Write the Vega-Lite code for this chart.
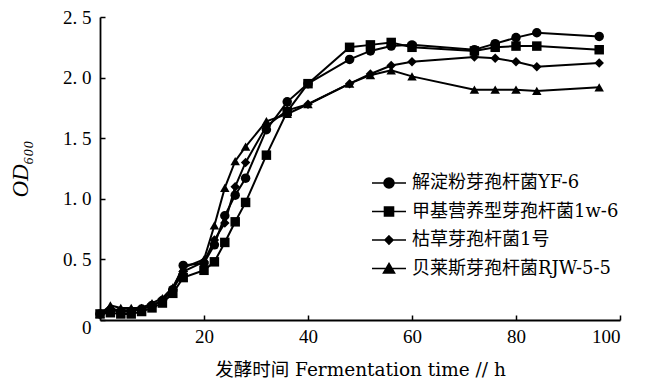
{
  "$schema": "https://vega.github.io/schema/vega-lite/v6.json",
  "width": 520,
  "height": 303,
  "autosize": "none",
  "padding": {"left": 100, "top": 17, "right": 30, "bottom": 68},
  "background": "white",
  "config": {
    "view": {"stroke": null},
    "axis": {"grid": false, "domainColor": "black", "domainWidth": 1.8, "tickColor": "black", "tickWidth": 1.5, "labelColor": "black", "titleColor": "black", "labelFont": "Liberation Serif", "titleFont": "DejaVu Serif, Noto Sans CJK SC", "titleFontWeight": "normal"}
  },
  "datasets": {
    "od": [
      {"t":0,"v":0.05,"s":"解淀粉芽孢杆菌YF-6"},{"t":2,"v":0.08,"s":"解淀粉芽孢杆菌YF-6"},{"t":4,"v":0.07,"s":"解淀粉芽孢杆菌YF-6"},{"t":6,"v":0.07,"s":"解淀粉芽孢杆菌YF-6"},{"t":8,"v":0.09,"s":"解淀粉芽孢杆菌YF-6"},{"t":10,"v":0.12,"s":"解淀粉芽孢杆菌YF-6"},{"t":12,"v":0.16,"s":"解淀粉芽孢杆菌YF-6"},{"t":14,"v":0.25,"s":"解淀粉芽孢杆菌YF-6"},{"t":16,"v":0.45,"s":"解淀粉芽孢杆菌YF-6"},{"t":20,"v":0.47,"s":"解淀粉芽孢杆菌YF-6"},{"t":22,"v":0.62,"s":"解淀粉芽孢杆菌YF-6"},{"t":24,"v":0.86,"s":"解淀粉芽孢杆菌YF-6"},{"t":26,"v":1.03,"s":"解淀粉芽孢杆菌YF-6"},{"t":28,"v":1.17,"s":"解淀粉芽孢杆菌YF-6"},{"t":32,"v":1.57,"s":"解淀粉芽孢杆菌YF-6"},{"t":36,"v":1.80,"s":"解淀粉芽孢杆菌YF-6"},{"t":40,"v":1.95,"s":"解淀粉芽孢杆菌YF-6"},{"t":48,"v":2.15,"s":"解淀粉芽孢杆菌YF-6"},{"t":52,"v":2.22,"s":"解淀粉芽孢杆菌YF-6"},{"t":56,"v":2.26,"s":"解淀粉芽孢杆菌YF-6"},{"t":60,"v":2.27,"s":"解淀粉芽孢杆菌YF-6"},{"t":72,"v":2.23,"s":"解淀粉芽孢杆菌YF-6"},{"t":76,"v":2.28,"s":"解淀粉芽孢杆菌YF-6"},{"t":80,"v":2.33,"s":"解淀粉芽孢杆菌YF-6"},{"t":84,"v":2.37,"s":"解淀粉芽孢杆菌YF-6"},{"t":96,"v":2.34,"s":"解淀粉芽孢杆菌YF-6"},
      {"t":0,"v":0.05,"s":"甲基营养型芽孢杆菌1w-6"},{"t":2,"v":0.06,"s":"甲基营养型芽孢杆菌1w-6"},{"t":4,"v":0.05,"s":"甲基营养型芽孢杆菌1w-6"},{"t":6,"v":0.05,"s":"甲基营养型芽孢杆菌1w-6"},{"t":8,"v":0.07,"s":"甲基营养型芽孢杆菌1w-6"},{"t":10,"v":0.10,"s":"甲基营养型芽孢杆菌1w-6"},{"t":12,"v":0.14,"s":"甲基营养型芽孢杆菌1w-6"},{"t":14,"v":0.22,"s":"甲基营养型芽孢杆菌1w-6"},{"t":16,"v":0.35,"s":"甲基营养型芽孢杆菌1w-6"},{"t":20,"v":0.41,"s":"甲基营养型芽孢杆菌1w-6"},{"t":22,"v":0.48,"s":"甲基营养型芽孢杆菌1w-6"},{"t":24,"v":0.64,"s":"甲基营养型芽孢杆菌1w-6"},{"t":26,"v":0.81,"s":"甲基营养型芽孢杆菌1w-6"},{"t":28,"v":0.97,"s":"甲基营养型芽孢杆菌1w-6"},{"t":32,"v":1.36,"s":"甲基营养型芽孢杆菌1w-6"},{"t":36,"v":1.72,"s":"甲基营养型芽孢杆菌1w-6"},{"t":40,"v":1.95,"s":"甲基营养型芽孢杆菌1w-6"},{"t":48,"v":2.25,"s":"甲基营养型芽孢杆菌1w-6"},{"t":52,"v":2.27,"s":"甲基营养型芽孢杆菌1w-6"},{"t":56,"v":2.29,"s":"甲基营养型芽孢杆菌1w-6"},{"t":60,"v":2.25,"s":"甲基营养型芽孢杆菌1w-6"},{"t":72,"v":2.22,"s":"甲基营养型芽孢杆菌1w-6"},{"t":76,"v":2.25,"s":"甲基营养型芽孢杆菌1w-6"},{"t":80,"v":2.26,"s":"甲基营养型芽孢杆菌1w-6"},{"t":84,"v":2.26,"s":"甲基营养型芽孢杆菌1w-6"},{"t":96,"v":2.23,"s":"甲基营养型芽孢杆菌1w-6"},
      {"t":0,"v":0.05,"s":"枯草芽孢杆菌1号"},{"t":2,"v":0.09,"s":"枯草芽孢杆菌1号"},{"t":4,"v":0.08,"s":"枯草芽孢杆菌1号"},{"t":6,"v":0.08,"s":"枯草芽孢杆菌1号"},{"t":8,"v":0.09,"s":"枯草芽孢杆菌1号"},{"t":10,"v":0.12,"s":"枯草芽孢杆菌1号"},{"t":12,"v":0.16,"s":"枯草芽孢杆菌1号"},{"t":14,"v":0.25,"s":"枯草芽孢杆菌1号"},{"t":16,"v":0.40,"s":"枯草芽孢杆菌1号"},{"t":20,"v":0.48,"s":"枯草芽孢杆菌1号"},{"t":22,"v":0.66,"s":"枯草芽孢杆菌1号"},{"t":24,"v":0.80,"s":"枯草芽孢杆菌1号"},{"t":26,"v":1.10,"s":"枯草芽孢杆菌1号"},{"t":28,"v":1.30,"s":"枯草芽孢杆菌1号"},{"t":32,"v":1.60,"s":"枯草芽孢杆菌1号"},{"t":36,"v":1.73,"s":"枯草芽孢杆菌1号"},{"t":40,"v":1.78,"s":"枯草芽孢杆菌1号"},{"t":48,"v":1.95,"s":"枯草芽孢杆菌1号"},{"t":52,"v":2.03,"s":"枯草芽孢杆菌1号"},{"t":56,"v":2.10,"s":"枯草芽孢杆菌1号"},{"t":60,"v":2.13,"s":"枯草芽孢杆菌1号"},{"t":72,"v":2.17,"s":"枯草芽孢杆菌1号"},{"t":76,"v":2.16,"s":"枯草芽孢杆菌1号"},{"t":80,"v":2.13,"s":"枯草芽孢杆菌1号"},{"t":84,"v":2.09,"s":"枯草芽孢杆菌1号"},{"t":96,"v":2.12,"s":"枯草芽孢杆菌1号"},
      {"t":0,"v":0.05,"s":"贝莱斯芽孢杆菌RJW-5-5"},{"t":2,"v":0.12,"s":"贝莱斯芽孢杆菌RJW-5-5"},{"t":4,"v":0.10,"s":"贝莱斯芽孢杆菌RJW-5-5"},{"t":6,"v":0.10,"s":"贝莱斯芽孢杆菌RJW-5-5"},{"t":8,"v":0.10,"s":"贝莱斯芽孢杆菌RJW-5-5"},{"t":10,"v":0.14,"s":"贝莱斯芽孢杆菌RJW-5-5"},{"t":12,"v":0.18,"s":"贝莱斯芽孢杆菌RJW-5-5"},{"t":14,"v":0.27,"s":"贝莱斯芽孢杆菌RJW-5-5"},{"t":16,"v":0.43,"s":"贝莱斯芽孢杆菌RJW-5-5"},{"t":20,"v":0.50,"s":"贝莱斯芽孢杆菌RJW-5-5"},{"t":22,"v":0.78,"s":"贝莱斯芽孢杆菌RJW-5-5"},{"t":24,"v":1.09,"s":"贝莱斯芽孢杆菌RJW-5-5"},{"t":26,"v":1.31,"s":"贝莱斯芽孢杆菌RJW-5-5"},{"t":28,"v":1.43,"s":"贝莱斯芽孢杆菌RJW-5-5"},{"t":32,"v":1.64,"s":"贝莱斯芽孢杆菌RJW-5-5"},{"t":36,"v":1.70,"s":"贝莱斯芽孢杆菌RJW-5-5"},{"t":40,"v":1.78,"s":"贝莱斯芽孢杆菌RJW-5-5"},{"t":48,"v":1.95,"s":"贝莱斯芽孢杆菌RJW-5-5"},{"t":52,"v":2.02,"s":"贝莱斯芽孢杆菌RJW-5-5"},{"t":56,"v":2.06,"s":"贝莱斯芽孢杆菌RJW-5-5"},{"t":60,"v":2.01,"s":"贝莱斯芽孢杆菌RJW-5-5"},{"t":72,"v":1.90,"s":"贝莱斯芽孢杆菌RJW-5-5"},{"t":76,"v":1.90,"s":"贝莱斯芽孢杆菌RJW-5-5"},{"t":80,"v":1.90,"s":"贝莱斯芽孢杆菌RJW-5-5"},{"t":84,"v":1.89,"s":"贝莱斯芽孢杆菌RJW-5-5"},{"t":96,"v":1.92,"s":"贝莱斯芽孢杆菌RJW-5-5"}
    ]
  },
  "data": {"name": "od"},
  "encoding": {
    "x": {"field": "t", "type": "quantitative", "scale": {"domain": [0, 100], "nice": false},
      "axis": {"values": [20, 40, 60, 80, 100], "title": "发酵时间 Fermentation time // h", "tickSize": -5, "labelPadding": 12, "labelFontSize": 19, "titleFontSize": 18.5, "titlePadding": 14}},
    "y": {"field": "v", "type": "quantitative", "scale": {"domain": [0, 2.5], "nice": false},
      "axis": {"values": [0, 0.5, 1, 1.5, 2, 2.5], "title": "OD₆₀₀", "titleFont": "Liberation Serif", "titleFontStyle": "italic", "titleFontSize": 23, "tickSize": -5, "labelPadding": 14, "labelFontSize": 19, "titlePadding": 30,
        "labelOffset": {"condition": {"test": "datum.value === 0", "value": 7}, "value": 0},
        "labelExpr": "datum.value === 0 ? '0' : replace(format(datum.value, '.1f'), '.', '. ')"}}
  },
  "layer": [
    {"mark": {"type": "line", "strokeWidth": 2},
      "encoding": {
        "color": {"field": "s", "type": "nominal",
          "scale": {"domain": ["解淀粉芽孢杆菌YF-6", "甲基营养型芽孢杆菌1w-6", "枯草芽孢杆菌1号", "贝莱斯芽孢杆菌RJW-5-5"], "range": ["black", "black", "black", "black"]},
          "legend": {"title": null, "orient": "none", "legendX": 280, "legendY": 157, "padding": 0, "symbolSize": 100, "labelFont": "DejaVu Serif, Noto Sans CJK SC", "labelFontSize": 18, "labelColor": "black", "labelOffset": 14, "rowPadding": 10.5, "labelLimit": 400,
            "encode": {"symbols": {"update": {
              "shape": {"signal": "datum.value === '解淀粉芽孢杆菌YF-6' ? 'M-3.4,0L3.4,0M-1,0A1,1,0,1,1,1,0A1,1,0,1,1,-1,0Z' : datum.value === '甲基营养型芽孢杆菌1w-6' ? 'M-3.4,0L3.4,0M-0.9,-0.9L0.9,-0.9L0.9,0.9L-0.9,0.9Z' : datum.value === '枯草芽孢杆菌1号' ? 'M-3.4,0L3.4,0M0,-0.8L0.8,0L0,0.8L-0.8,0Z' : 'M-3.4,0L3.4,0M0,-1L1.1,0.9L-1.1,0.9Z'"},
              "fill": {"value": "black"}, "stroke": {"value": "black"}, "strokeWidth": {"value": 1.6}, "size": {"value": 100}, "opacity": {"value": 1}}}}}}
      }},
    {"mark": {"type": "point", "filled": true, "color": "black", "opacity": 1, "size": 90},
      "encoding": {
        "shape": {"field": "s", "type": "nominal", "legend": null,
          "sort": ["解淀粉芽孢杆菌YF-6", "甲基营养型芽孢杆菌1w-6", "枯草芽孢杆菌1号", "贝莱斯芽孢杆菌RJW-5-5"],
          "scale": {"range": ["circle", "square", "diamond", "triangle-up"]}}
      }}
  ]
}
